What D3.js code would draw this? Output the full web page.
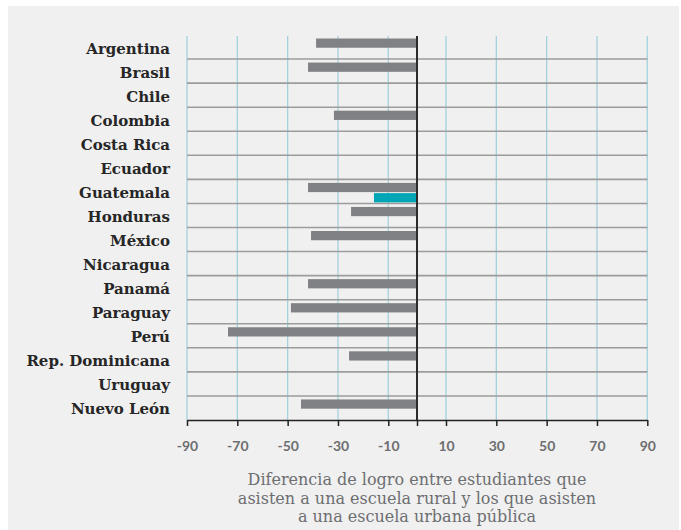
<!DOCTYPE html>
<html><head><meta charset="utf-8">
<script src="https://cdn.jsdelivr.net/npm/d3@7"></script>
<style>body{margin:0;background:#fff}svg{display:block}</style>
</head><body><svg id="c" width="681" height="530"></svg>
<script>
const categories = ["Argentina","Brasil","Chile","Colombia","Costa Rica","Ecuador","Guatemala","Honduras","México","Nicaragua","Panamá","Paraguay","Perú","Rep. Dominicana","Uruguay","Nuevo León"];
const seriesGray = [-38.7,-41.9,null,-31.6,null,null,-41.9,-24.8,-40.7,null,-41.9,-48.7,-73.7,-25.6,null,-44.7];
const seriesTeal = [null,null,null,null,null,null,-15.7,null,null,null,null,null,null,null,null,null];
const tickValues = [-90,-70,-50,-30,-10,0,10,30,50,70,90];
const tickLabels = ["-90","-70","-50","-30","-10","","10","30","50","70","90"];
const gridValues = [-90,-70,-50,-30,-10,10,30,50,70,90];
const captionLines = ["Diferencia de logro entre estudiantes que","asisten a una escuela rural y los que asisten","a una escuela urbana pública"];

const svg = d3.select("#c");
svg.append("rect").attr("x",8).attr("y",6).attr("width",671).attr("height",524).attr("fill","#f0f0f0");

const x = d3.scaleLinear().domain([-90,-10,0,10,90]).range([187,388.3,417,446,647.3]);
const y = d3.scaleBand().domain(categories).range([35,420]).padding(0);
const sub = d3.scaleBand().domain(["g","t"]).range([3.5,23]).paddingInner(0.1);

// vertical grid lines
svg.append("g").selectAll("line").data(gridValues).join("line")
  .attr("x1",d=>x(d)).attr("x2",d=>x(d)).attr("y1",36).attr("y2",420)
  .attr("stroke","#a3d2dc").attr("stroke-width",1.3);

// horizontal row separators
svg.append("g").selectAll("line").data(categories.slice(1)).join("line")
  .attr("x1",x(-90)).attr("x2",x(90)).attr("y1",d=>y(d)).attr("y2",d=>y(d))
  .attr("stroke","#9c9c9c").attr("stroke-width",1.6);

// bars
const g = svg.append("g");
g.selectAll("rect.g").data(categories.map((c,i)=>({c,v:seriesGray[i]})).filter(d=>d.v!=null)).join("rect")
  .attr("class","g").attr("x",d=>x(d.v)).attr("width",d=>x(0)-x(d.v))
  .attr("y",d=>y(d.c)+sub("g")).attr("height",sub.bandwidth()).attr("fill","#808184");
g.selectAll("rect.t").data(categories.map((c,i)=>({c,v:seriesTeal[i]})).filter(d=>d.v!=null)).join("rect")
  .attr("class","t").attr("x",d=>x(d.v)).attr("width",d=>x(0)-x(d.v))
  .attr("y",d=>y(d.c)+sub("t")).attr("height",sub.bandwidth()).attr("fill","#00a6b6");

// zero line
svg.append("line").attr("x1",x(0)).attr("x2",x(0)).attr("y1",36).attr("y2",420)
  .attr("stroke","#2b2b2b").attr("stroke-width",2);

// x axis
const ax = svg.append("g").attr("transform","translate(0,420)")
  .call(d3.axisBottom(x).tickValues(tickValues).tickSize(6).tickSizeOuter(0)
    .tickFormat((d,i)=>tickLabels[i]));
ax.select(".domain").attr("stroke","#222").attr("stroke-width",1.5);
ax.selectAll(".tick line").attr("stroke","#222").attr("stroke-width",1.5);
ax.selectAll(".tick text").attr("dy",0).attr("y",31).attr("fill","#6d6e70")
  .style("font-family","Lato").style("font-size","14px").style("font-weight","bold");

// category labels
svg.append("g").selectAll("text").data(categories).join("text")
  .attr("x",170).attr("y",d=>y(d)+y.bandwidth()/2+6.5)
  .attr("text-anchor","end").attr("fill","#262626")
  .style("font-family","DejaVu Serif").style("font-weight","bold").style("font-size","15px")
  .text(d=>d);

// caption
svg.append("g").selectAll("text").data(captionLines).join("text")
  .attr("x",x(0)).attr("y",(d,i)=>485+i*18.5).attr("text-anchor","middle").attr("fill","#6d6e70")
  .style("font-family","DejaVu Serif").style("font-size","16px")
  .text(d=>d);
</script></body></html>
